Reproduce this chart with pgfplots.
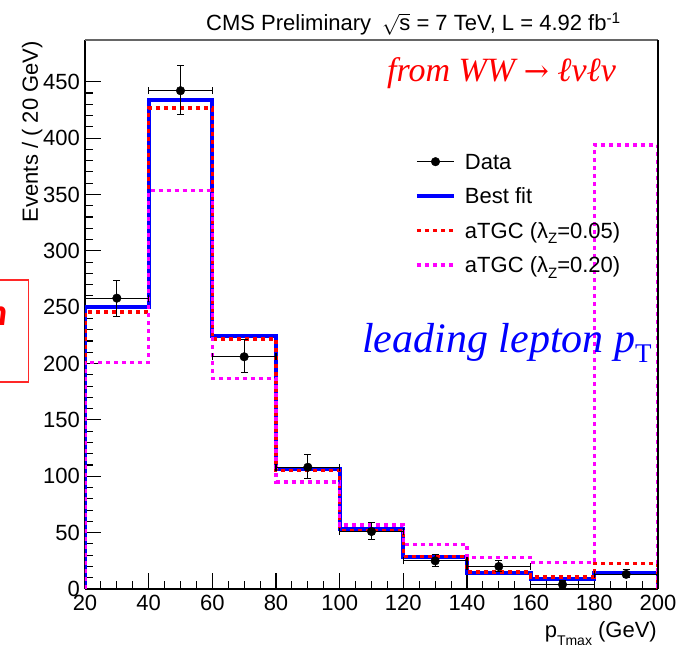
\documentclass[border=0pt]{standalone}
\usepackage{pgfplots}
\usepackage{pgfplotstable}
\pgfplotsset{compat=1.18}
\usepackage{fontspec}
\setmainfont{Liberation Sans}
\newfontfamily\serifit{Liberation Serif}
\newfontfamily\dejaserif{DejaVu Serif}
\newfontfamily\carlito{Carlito}
\definecolor{rblue}{RGB}{0,0,255}
\definecolor{rred}{RGB}{255,0,0}
\definecolor{rmag}{RGB}{255,0,255}
\definecolor{boxred}{RGB}{255,40,40}

\pgfplotstableread{
x y ep em
30 258 16 16
50 442 22 21
70 206 15 14
90 108 11 10
110 51 8 7
130 25 6 5
150 20 5.5 4.4
170 4 3.2 1.9
190 13 4 3
}\datatable

\pgfplotstableread{
x best a05 a20
20 0 0 0
20 250 245.5 201
40 433.5 426.7 353.3
60 224.8 221.8 186.6
80 106.4 105 95
100 52.8 52 56.6
120 28.5 29 39.5
140 14.3 15 28
160 9 10.5 23.5
180 13.8 22.6 394
200 13.8 22.6 394
200 0 0 0
}\histtable

\begin{document}
\begin{tikzpicture}
\useasboundingbox (-85bp,-56bp) rectangle (602bp,589bp);
\clip (-85bp,-56bp) rectangle (602bp,589bp);
\begin{axis}[
  at={(0,0)}, anchor=south west,
  scale only axis, width=573bp, height=549bp,
  xmin=20, xmax=200, ymin=0, ymax=487,
  axis x line*=bottom, axis y line*=left,
  axis line style={line width=1.2bp, black},
  xtick={20,40,...,200}, ytick={0,50,...,450},
  minor x tick num=3, minor y tick num=4,
  tick align=inside,
  major tick length=16bp, minor tick length=8bp,
  tick style={line width=1.1bp, black},
  /pgf/number format/assume math mode=true,
  ticklabel style={font=\fontsize{22bp}{26bp}\selectfont},
  xticklabel style={inner sep=0pt, yshift=-6bp},
  yticklabel style={inner sep=0pt, xshift=-5bp},
  legend style={at={(0.5759,0.7993)}, anchor=north west, draw=none, fill=none,
    inner sep=0pt, outer sep=0pt, row sep=11.5bp, column sep=9bp,
    font=\fontsize{22bp}{26bp}\selectfont,
    nodes={inner sep=0pt, text height=19bp, text depth=4bp}},
  legend cell align=left,
]
\addlegendimage{legend image code/.code={\draw[black, line width=1.1bp] (0bp,0bp) -- (37bp,0bp); \fill[black] (18.5bp,0bp) circle (4.3bp);}}
\addlegendentry{Data}
\addlegendimage{legend image code/.code={\draw[rblue, line width=4bp] (0bp,0bp) -- (37bp,0bp);}}
\addlegendentry{Best fit}
\addlegendimage{legend image code/.code={\draw[rred, line width=3.5bp, dash pattern=on 4bp off 4bp] (0bp,0bp) -- (37bp,0bp);}}
\addlegendentry{aTGC (λ\raisebox{-0.25em}{\fontsize{15bp}{15bp}\selectfont Z}=0.05)}
\addlegendimage{legend image code/.code={\draw[rmag, line width=3.5bp, dash pattern=on 4bp off 4bp] (0bp,0bp) -- (37bp,0bp);}}
\addlegendentry{aTGC (λ\raisebox{-0.25em}{\fontsize{15bp}{15bp}\selectfont Z}=0.20)}

\addplot[forget plot, const plot mark left, rblue, line width=4bp] table[x=x, y=best] {\histtable};
\addplot[forget plot, const plot mark left, rred, line width=3.5bp, dash pattern=on 4bp off 4bp] table[x=x, y=a05] {\histtable};
\addplot[forget plot, const plot mark left, rmag, line width=3.5bp, dash pattern=on 4bp off 4bp] table[x=x, y=a20] {\histtable};
\addplot[forget plot, only marks, mark=*, black, mark size=4.3bp,
  error bars/.cd, x dir=both, x fixed=10, y dir=both, y explicit,
  error bar style={line width=1.1bp, black},
  error mark options={rotate=90, black, line width=1.1bp, mark size=3.5bp}]
  table[x=x, y=y, y error plus=ep, y error minus=em] {\datatable};
\end{axis}
% frame top and right
\draw[gray!80!black, line width=1.5bp] (0bp,549bp) -- (573bp,549bp);
\draw[black, line width=1.2bp] (573bp,0bp) -- (573bp,549bp);
% title
\node[anchor=base west, inner sep=0pt] at (121bp,558bp) {\fontsize{22bp}{26bp}\selectfont CMS Preliminary\hspace{0.5em}$\sqrt{\hbox{s}}$ = 7 TeV, L = 4.92 fb\textsuperscript{-1}};
% y label
\node[anchor=base east, rotate=90, inner sep=0pt] at (-47bp,548bp) {\fontsize{22bp}{26bp}\selectfont Events / ( 20 GeV)};
% x label
\node[anchor=base east, inner sep=0pt] at (572bp,-48bp) {\fontsize{22bp}{26bp}\selectfont p\raisebox{-0.4em}{\fontsize{14bp}{14bp}\selectfont Tmax} (GeV)};
% annotations
\node[anchor=base west, inner sep=0pt, text=rred] at (302bp,507bp) {\serifit\itshape\fontsize{34bp}{40bp}\selectfont from WW {\dejaserif\upshape\fontsize{30bp}{40bp}\selectfont →} ℓνℓν};
\node[anchor=base west, inner sep=0pt, text=rblue] at (277bp,236bp) {\fontsize{42bp}{48bp}\selectfont{\serifit\itshape leading lepton p}\raisebox{-0.22em}{\serifit\fontsize{27bp}{27bp}\selectfont T}};
% partial red box on the left
\draw[boxred, line width=1.5bp] (-160bp,207bp) rectangle (-56.7bp,309bp);
\node[anchor=base east, inner sep=0pt, text=rred] at (-77bp,263bp) {\carlito\bfseries\itshape\fontsize{38bp}{44bp}\selectfont n};
\end{tikzpicture}
\end{document}
